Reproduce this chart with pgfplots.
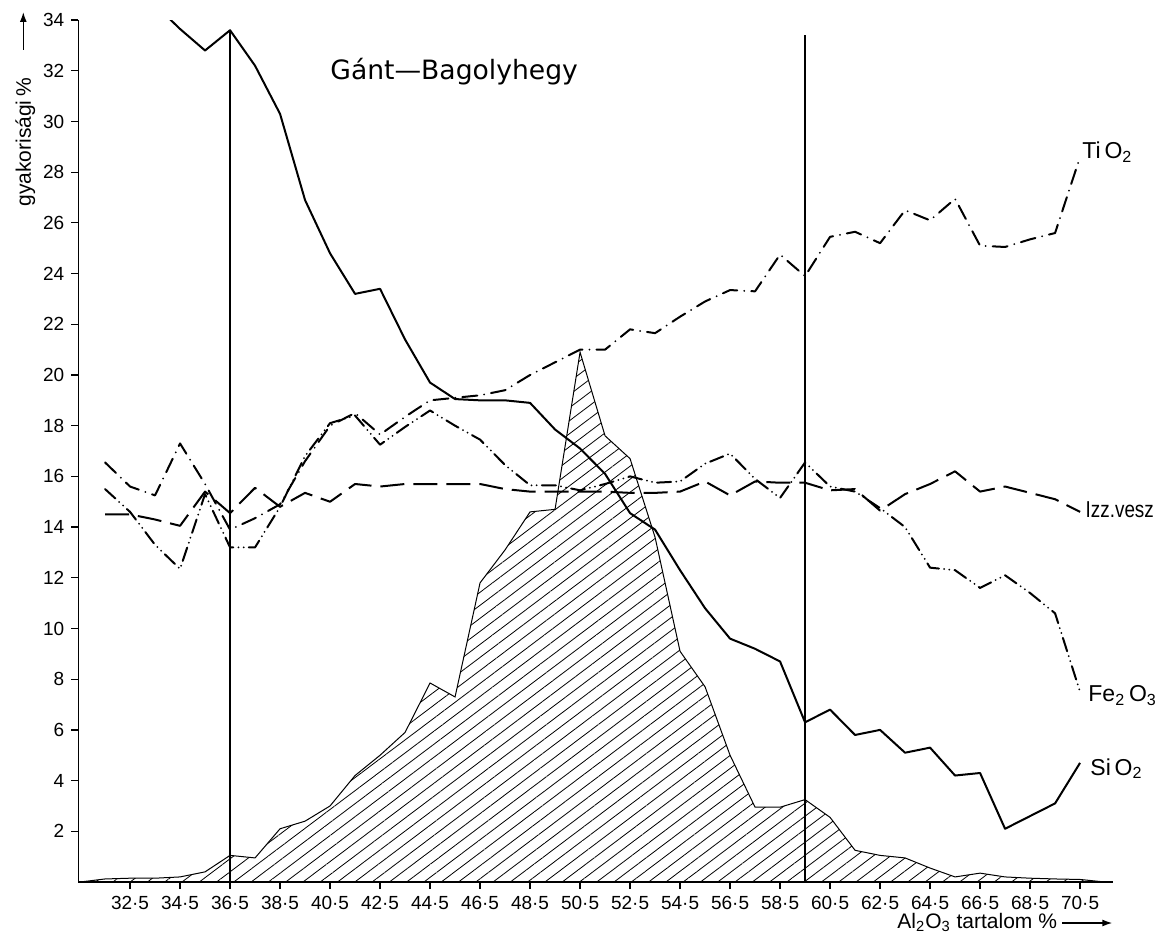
\documentclass[border=0pt]{standalone}
\usepackage{pgfplots}
\pgfplotsset{compat=1.18}
\usepackage{pgfplotstable}
\usetikzlibrary{patterns.meta,arrows.meta}
\usepackage{fontspec}
\setmainfont{Liberation Sans}
\newfontfamily\titlefont{DejaVu Sans}

% frequency histogram (hatched area)
\pgfplotstableread{
x y
30.5 0
31.5 0.12
32.5 0.15
33.5 0.15
34.5 0.2
35.5 0.4
36.5 1.05
37.5 0.95
38.5 2.1
39.5 2.4
40.5 3.0
41.5 4.2
42.5 5.0
43.5 5.9
44.5 7.85
45.5 7.3
46.5 11.8
47.5 13.1
48.5 14.6
49.5 14.7
50.5 20.9
51.5 17.6
52.5 16.7
53.5 13.6
54.5 9.1
55.5 7.7
56.5 5.0
57.5 2.95
58.5 2.95
59.5 3.25
60.5 2.55
61.5 1.25
62.5 1.05
63.5 0.95
64.5 0.55
65.5 0.2
66.5 0.35
67.5 0.2
68.5 0.15
69.5 0.12
70.5 0.1
71.5 0
}\histtab

\pgfplotstableread{
x y
33.5 34.6
34.5 33.65
35.5 32.8
36.5 33.6
37.5 32.2
38.5 30.3
39.5 26.9
40.5 24.8
41.5 23.2
42.5 23.4
43.5 21.4
44.5 19.7
45.5 19.05
46.5 19.0
47.5 19.0
48.5 18.9
49.5 17.85
50.5 17.1
51.5 16.1
52.5 14.55
53.5 13.9
54.5 12.3
55.5 10.8
56.5 9.6
57.5 9.2
58.5 8.7
59.5 6.3
60.5 6.8
61.5 5.8
62.5 6.0
63.5 5.1
64.5 5.3
65.5 4.2
66.5 4.3
67.5 2.1
68.5 2.6
69.5 3.1
70.5 4.7
}\siotab

\pgfplotstableread{
x y
31.5 16.55
32.5 15.6
33.5 15.25
34.5 17.3
35.5 15.7
36.5 13.9
37.5 14.35
38.5 14.9
39.5 16.6
40.5 18.0
41.5 18.5
42.5 17.65
43.5 18.35
44.5 19.0
45.5 19.1
46.5 19.2
47.5 19.4
48.5 20.0
49.5 20.5
50.5 21.0
51.5 21.0
52.5 21.8
53.5 21.65
54.5 22.3
55.5 22.9
56.5 23.35
57.5 23.3
58.5 24.75
59.5 23.9
60.5 25.45
61.5 25.65
62.5 25.2
63.5 26.5
64.5 26.1
65.5 26.95
66.5 25.1
67.5 25.05
68.5 25.35
69.5 25.6
70.5 28.6
}\tiotab

\pgfplotstableread{
x y
31.5 15.5
32.5 14.6
33.5 13.3
34.5 12.35
35.5 15.3
36.5 13.2
37.5 13.2
38.5 14.8
39.5 16.8
40.5 18.1
41.5 18.4
42.5 17.25
43.5 17.95
44.5 18.6
45.5 18.0
46.5 17.45
47.5 16.45
48.5 15.65
49.5 15.65
50.5 15.45
51.5 15.7
52.5 16.0
53.5 15.75
54.5 15.8
55.5 16.5
56.5 16.9
57.5 15.9
58.5 15.15
59.5 16.55
60.5 15.6
61.5 15.4
62.5 14.75
63.5 14.0
64.5 12.4
65.5 12.3
66.5 11.6
67.5 12.1
68.5 11.4
69.5 10.6
70.5 7.5
}\fetab

\pgfplotstableread{
x y
31.5 14.5
32.5 14.5
33.5 14.3
34.5 14.05
35.5 15.4
36.5 14.55
37.5 15.55
38.5 14.8
39.5 15.35
40.5 15.0
41.5 15.7
42.5 15.6
43.5 15.7
44.5 15.7
45.5 15.7
46.5 15.7
47.5 15.5
48.5 15.4
49.5 15.4
50.5 15.4
51.5 15.4
52.5 15.35
53.5 15.35
54.5 15.4
55.5 15.8
56.5 15.25
57.5 15.8
58.5 15.75
59.5 15.75
60.5 15.45
61.5 15.5
62.5 14.65
63.5 15.3
64.5 15.7
65.5 16.2
66.5 15.4
67.5 15.6
68.5 15.35
69.5 15.1
70.5 14.6
}\izztab

\begin{document}
\begin{tikzpicture}
\path[use as bounding box] (-39.15pt,-29.5pt) rectangle (540.35pt,441pt);
\begin{axis}[
  anchor=south west, at={(0pt,0pt)},
  x=12.5pt, y=12.675pt,
  xmin=30.43, xmax=71.8, ymin=0, ymax=34,
  axis lines=left,
  axis line style={-, line width=0.7pt},
  xtick={32.5,34.5,36.5,38.5,40.5,42.5,44.5,46.5,48.5,50.5,52.5,54.5,56.5,58.5,60.5,62.5,64.5,66.5,68.5,70.5},
  xticklabels={32·5,34·5,36·5,38·5,40·5,42·5,44·5,46·5,48·5,50·5,52·5,54·5,56·5,58·5,60·5,62·5,64·5,66·5,68·5,70·5},
  ytick={2,4,6,8,10,12,14,16,18,20,22,24,26,28,30,32,34},
  tick align=outside,
  major tick length=3.5pt,
  tick style={line width=0.6pt, black},
  xticklabel style={font=\fontsize{9.5}{11}\selectfont},
  yticklabel style={font=\fontsize{9.5}{11}\selectfont, /pgf/number format/assume math mode=true},
  clip=true,
]
% hatched frequency area
\addplot[draw=black, line width=0.5pt,
  pattern={Lines[angle=37,distance=5.2pt,line width=0.4pt]}, pattern color=black]
  table[x=x,y=y]{\histtab} \closedcycle;
% vertical boundary lines
\addplot[black, line width=0.6pt] coordinates {(36.5,0) (36.5,33.6)};
\addplot[black, line width=0.6pt] coordinates {(59.5,0) (59.5,33.4)};
% SiO2
\addplot[black, line width=1pt, line join=round] table[x=x,y=y]{\siotab};
% TiO2 (dash-dot)
\addplot[black, line width=1pt, line cap=round, line join=round,
  dash pattern=on 7.5pt off 3.5pt on 0pt off 3.5pt] table[x=x,y=y]{\tiotab};
% Fe2O3 (dash-dot-dot)
\addplot[black, line width=1pt, line cap=round, line join=round,
  dash pattern=on 7pt off 2.6pt on 0pt off 2.6pt on 0pt off 2.6pt] table[x=x,y=y]{\fetab};
% Izz. vesz (long dash)
\addplot[black, line width=1pt, line join=round,
  dash pattern=on 12pt off 4.5pt] table[x=x,y=y]{\izztab};
\end{axis}
% title
\node[anchor=base west, inner sep=0pt] at (125.85pt,401pt) {\titlefont\fontsize{13.3}{15}\selectfont Gánt—Bagolyhegy};
% series labels
\node[anchor=base west, inner sep=0pt] at (501.85pt,361.5pt) {\fontsize{11.5}{13}\selectfont Ti\,O\textsubscript{2}};
\node[anchor=base west, inner sep=0pt] at (503.5pt,182pt) {\scalebox{0.82}[1]{\fontsize{11.5}{13}\selectfont Izz.vesz}};
\node[anchor=base west, inner sep=0pt] at (504.85pt,90pt) {\fontsize{11.5}{13}\selectfont Fe\textsubscript{2}\,O\textsubscript{3}};
\node[anchor=base west, inner sep=0pt] at (505.85pt,53.5pt) {\fontsize{11.5}{13}\selectfont Si\,O\textsubscript{2}};
% axis titles
\node[anchor=base west, inner sep=0pt] at (409.35pt,-23pt) {\fontsize{10.5}{12}\selectfont Al\textsubscript{2}O\textsubscript{3} tartalom \%};
\draw[line width=0.7pt, -{Latex[length=5pt,width=3.5pt]}] (491.85pt,-20.5pt) -- (517pt,-20.5pt);
\node[anchor=base west, inner sep=0pt, rotate=90] at (-23.65pt,337.5pt) {\fontsize{10.5}{12}\selectfont gyakorisági\,\%};
\draw[line width=0.7pt, -{Latex[length=5pt,width=3.5pt]}] (-27.5pt,416pt) -- (-27.5pt,435pt);
\end{tikzpicture}
\end{document}
